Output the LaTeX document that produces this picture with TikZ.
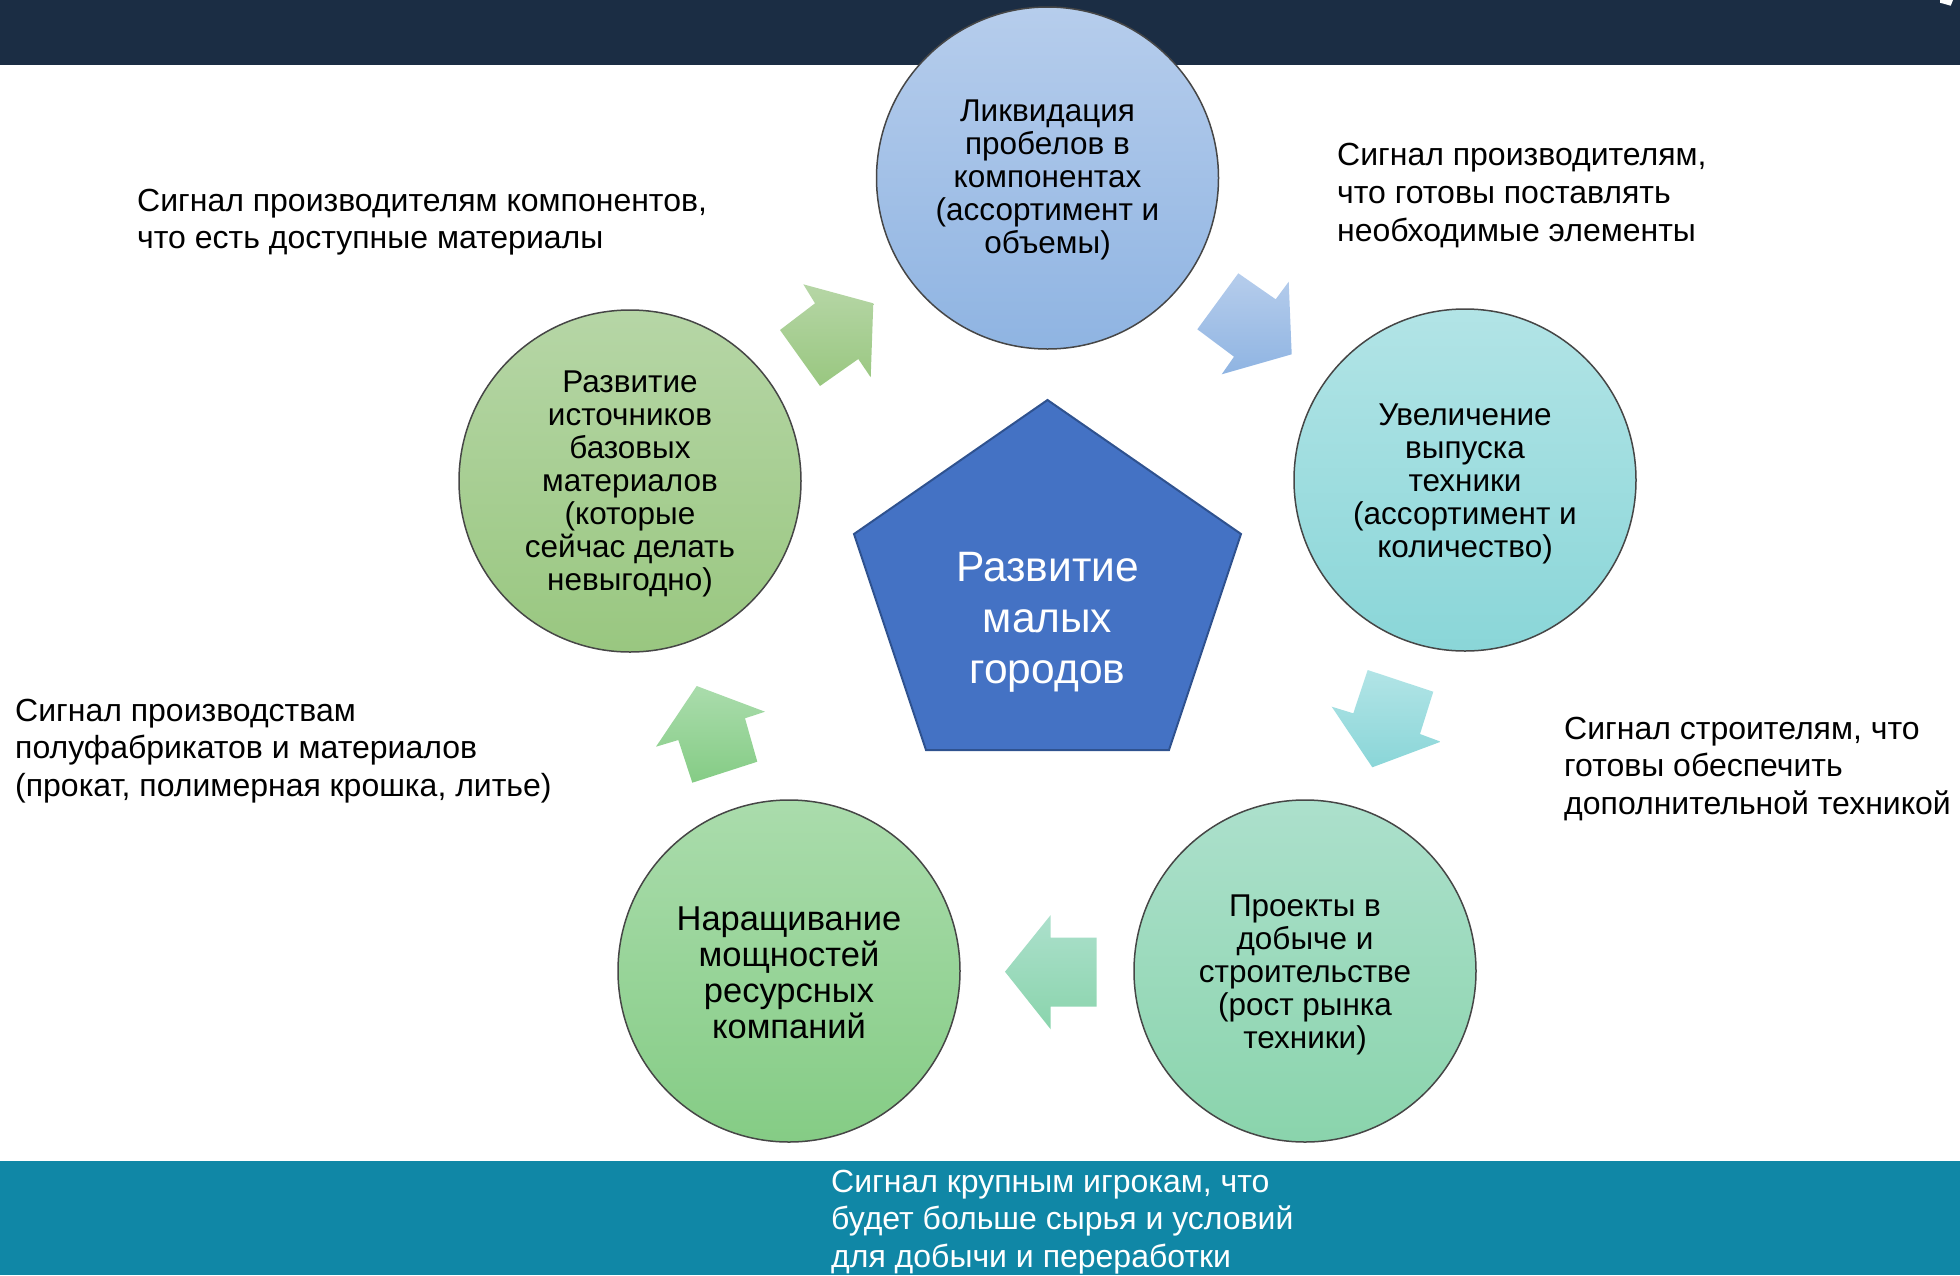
\documentclass[tikz,border=0pt]{standalone}
\usepackage{fontspec}
\setmainfont{Liberation Sans}
\definecolor{topbar}{RGB}{27,45,68}
\definecolor{botbar}{RGB}{16,135,166}
\definecolor{circedge}{RGB}{70,70,70}
\definecolor{pent}{RGB}{68,114,196}
\definecolor{pentedge}{RGB}{47,82,143}
\definecolor{bluet}{RGB}{182,205,236}
\definecolor{blueb}{RGB}{143,180,226}
\definecolor{tealt}{RGB}{178,228,230}
\definecolor{tealb}{RGB}{138,214,216}
\definecolor{mintt}{RGB}{172,224,204}
\definecolor{mintb}{RGB}{138,212,172}
\definecolor{grent}{RGB}{170,220,172}
\definecolor{grenb}{RGB}{133,204,133}
\definecolor{olivt}{RGB}{182,214,166}
\definecolor{olivb}{RGB}{153,199,128}
\begin{document}
\begin{tikzpicture}[x=1pt,y=-1pt,
  bubble/.style={circle, draw=circedge, line width=1.5pt, minimum size=342pt,
    inner sep=0pt},
  bubtext/.style={inner sep=0pt, align=center, text=black,
    font=\fontsize{31.5}{33}\selectfont},
  note/.style={anchor=north west, inner sep=0pt, align=left, text=black,
    font=\fontsize{32}{37.8}\selectfont}]
\useasboundingbox (0,0) rectangle (1960,1275);
% bars
\fill[topbar] (0,0) rectangle (1960,65);
\fill[botbar] (0,1161) rectangle (1960,1275);
\fill[white] (1940,0) -- (1953,0) -- (1950.7,5.7) -- (1940,2.7) -- cycle;

% circles
\node[bubble, top color=bluet, bottom color=blueb] (liq) at (1047.5,178) {};
\node[bubtext] (liqt) at ([yshift=-1.5pt]liq.center)
  {Ликвидация\\пробелов в\\компонентах\\(ассортимент и\\объемы)};
\node[bubble, top color=tealt, bottom color=tealb] (uvel) at (1465,480) {};
\node[bubtext] (uvelt) at ([yshift=-3.5pt]uvel.center)
  {Увеличение\\выпуска\\техники\\(ассортимент и\\количество)};
\node[bubble, top color=mintt, bottom color=mintb] (proj) at (1305,971) {};
\node[bubtext] (projt) at ([yshift=-3.5pt]proj.center)
  {Проекты в\\добыче и\\строительстве\\(рост рынка\\техники)};
\node[bubble, top color=grent, bottom color=grenb] (nar) at (789,971) {};
\node[bubtext, font=\fontsize{34.5}{36}\selectfont] (nart) at ([yshift=-1.5pt]nar.center)
  {Наращивание\\мощностей\\ресурсных\\компаний};
\node[bubble, top color=olivt, bottom color=olivb] (razv) at (630,481) {};
\node[bubtext] (razvt) at ([yshift=-3pt]razv.center)
  {Развитие\\источников\\базовых\\материалов\\(которые\\сейчас делать\\невыгодно)};

% pentagon
\filldraw[fill=pent, draw=pentedge, line width=2pt]
  (1047.5,400) -- (1241,534) -- (1169,750) -- (926,750) -- (854,534) -- cycle;
\node[text=white, align=center, font=\fontsize{42.5}{51}\selectfont] (core) at (1047.5,622)
  {Развитие\\малых\\городов};

% arrows
\shade[top color=olivt, bottom color=olivb]
  (873.3,303.3) -- (870.7,377.3) -- (858.3,359) -- (820,386) -- (780,330)
  -- (815,303.3) -- (803.3,284.3) -- cycle;
\shade[top color=bluet, bottom color=blueb]
  (1291.7,354.3) -- (1221.7,374.3) -- (1234,356.7) -- (1197.3,329.3) -- (1238.3,273.3)
  -- (1275.7,299.3) -- (1288.7,281.7) -- cycle;
\shade[top color=tealt, bottom color=tealb]
  (1372.3,767.3) -- (1331.7,706.7) -- (1353.3,713.3) -- (1367.7,670) -- (1433.3,691.7)
  -- (1420,734) -- (1440.7,741.7) -- cycle;
\shade[top color=mintt, bottom color=mintb]
  (1005,971.7) -- (1050.7,915) -- (1050.7,937.7) -- (1096.7,937.7) -- (1096.7,1006.7)
  -- (1050.7,1006.7) -- (1050.7,1029.3) -- cycle;
\shade[top color=grent, bottom color=grenb]
  (696.7,686) -- (765,711.7) -- (745,718.3) -- (757.3,761.7) -- (692.3,782.7)
  -- (678.3,740) -- (656,746.7) -- cycle;

% notes
\node[note] (n1) at (137,188.5) {Сигнал производителям компонентов,\\что есть доступные материалы};
\node[note] (n2) at (1337,143) {Сигнал производителям,\\что готовы поставлять\\необходимые элементы};
\node[note] (n3) at (1564,716.5) {Сигнал строителям, что\\готовы обеспечить\\дополнительной техникой};
\node[note] (n4) at (15,698.5) {Сигнал производствам\\полуфабрикатов и материалов\\(прокат, полимерная крошка, литье)};
\node[note, text=white] (n5) at (831,1169.5) {Сигнал крупным игрокам, что\\будет больше сырья и условий\\для добычи и переработки};
\end{tikzpicture}
\end{document}
